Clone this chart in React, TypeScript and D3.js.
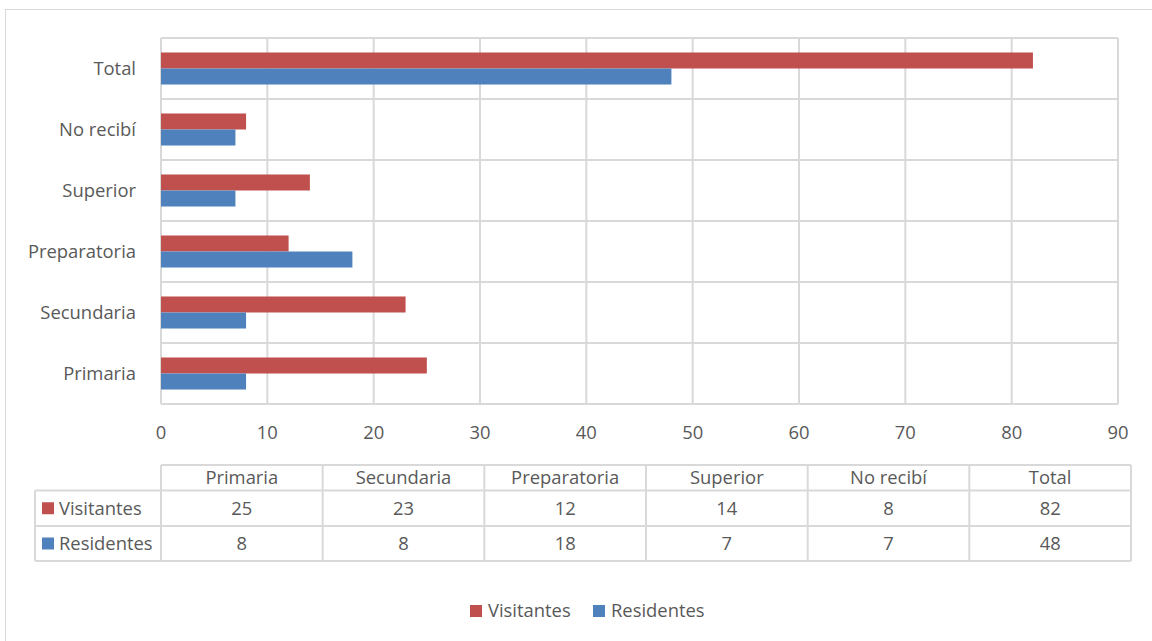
import React from "react";
import * as d3 from "d3";

const categories = ["Primaria", "Secundaria", "Preparatoria", "Superior", "No recibí", "Total"];
const seriesNames = ["Visitantes", "Residentes"];
const visitantes = [25, 23, 12, 14, 8, 82];
const residentes = [8, 8, 18, 7, 7, 48];
const xTicks = [0, 10, 20, 30, 40, 50, 60, 70, 80, 90];
const colors = ["#C0504D", "#4F81BD"];

const W = 1152;
const H = 641;
const FONT = "'Open Sans', Lato, sans-serif";
const FS = 18.4;
const TXT = "#595959";
const GRID = "#D9D9D9";

export default function App() {
  const left = 161, right = 1118, top = 38, bottom = 404;
  const x = d3.scaleLinear().domain([0, 90]).range([left, right]);
  const catsTopDown = [...categories].reverse();
  const y = d3.scaleBand<string>().domain(catsTopDown).range([top, bottom]).paddingInner(0.475).paddingOuter(0.2375);
  const ySub = d3.scaleBand<string>().domain(seriesNames).range([0, y.bandwidth()]);
  const series = [visitantes, residentes];

  // table
  const tLeft = 161, tRight = 1131, legLeft = 35;
  const col = d3.scaleBand<string>().domain(categories).range([tLeft, tRight]);
  const rowY = [465, 490.5, 526, 561];

  return (
    <svg width={W} height={H} style={{ position: "absolute", left: 0, top: 0, background: "#fff" }} fontFamily={FONT}>
      <rect x={5.5} y={9.5} width={1200} height={700} fill="#fff" stroke={GRID} strokeWidth={1} />
      {/* category grid lines */}
      {d3.range(categories.length + 1).map((i) => {
        const yy = top + i * (bottom - top) / categories.length;
        return <line key={"h" + i} x1={left} x2={right} y1={yy} y2={yy} stroke={GRID} strokeWidth={2} />;
      })}
      {xTicks.map((t) => (
        <line key={"v" + t} x1={x(t)} x2={x(t)} y1={top} y2={bottom} stroke={GRID} strokeWidth={2} />
      ))}
      {/* bars */}
      {categories.map((c, ci) =>
        series.map((s, si) => (
          <rect key={c + si} x={x(0)} y={(y(c) as number) + (ySub(seriesNames[si]) as number)} width={x(s[ci]) - x(0)} height={ySub.bandwidth()} fill={colors[si]} />
        ))
      )}
      {/* category labels */}
      {categories.map((c) => (
        <text key={"cl" + c} x={136} y={(y(c) as number) + y.bandwidth() / 2} dy="0.35em" textAnchor="end" fontSize={FS} fill={TXT}>{c}</text>
      ))}
      {/* x tick labels */}
      {xTicks.map((t) => (
        <text key={"xt" + t} x={x(t)} y={433} dy="0.35em" textAnchor="middle" fontSize={FS} fill={TXT}>{t}</text>
      ))}
      {/* data table */}
      <g stroke={GRID} strokeWidth={2} fill="none">
        <line x1={tLeft} x2={tRight} y1={rowY[0]} y2={rowY[0]} />
        <line x1={legLeft} x2={tRight} y1={rowY[1]} y2={rowY[1]} />
        <line x1={legLeft} x2={tRight} y1={rowY[2]} y2={rowY[2]} />
        <line x1={legLeft} x2={tRight} y1={rowY[3]} y2={rowY[3]} />
        <line x1={legLeft} x2={legLeft} y1={rowY[1]} y2={rowY[3]} />
        {categories.map((c) => (
          <line key={"tc" + c} x1={col(c)} x2={col(c)} y1={rowY[0]} y2={rowY[3]} />
        ))}
        <line x1={tRight} x2={tRight} y1={rowY[0]} y2={rowY[3]} />
      </g>
      {categories.map((c) => (
        <text key={"th" + c} x={(col(c) as number) + col.bandwidth() / 2} y={(rowY[0] + rowY[1]) / 2} dy="0.35em" textAnchor="middle" fontSize={FS} fill={TXT}>{c}</text>
      ))}
      {series.map((s, si) => (
        <g key={"row" + si}>
          <rect x={42} y={(rowY[si + 1] + rowY[si + 2]) / 2 - 6} width={12} height={12} fill={colors[si]} />
          <text x={59} y={(rowY[si + 1] + rowY[si + 2]) / 2} dy="0.35em" fontSize={FS} fill={TXT}>{seriesNames[si]}</text>
          {categories.map((c, ci) => (
            <text key={c} x={(col(c) as number) + col.bandwidth() / 2} y={(rowY[si + 1] + rowY[si + 2]) / 2} dy="0.35em" textAnchor="middle" fontSize={FS} fill={TXT}>{s[ci]}</text>
          ))}
        </g>
      ))}
      {/* legend */}
      <rect x={470} y={605} width={12} height={12} fill={colors[0]} />
      <text x={488} y={611} dy="0.35em" fontSize={FS} fill={TXT}>{seriesNames[0]}</text>
      <rect x={593} y={605} width={12} height={12} fill={colors[1]} />
      <text x={611} y={611} dy="0.35em" fontSize={FS} fill={TXT}>{seriesNames[1]}</text>
    </svg>
  );
}
